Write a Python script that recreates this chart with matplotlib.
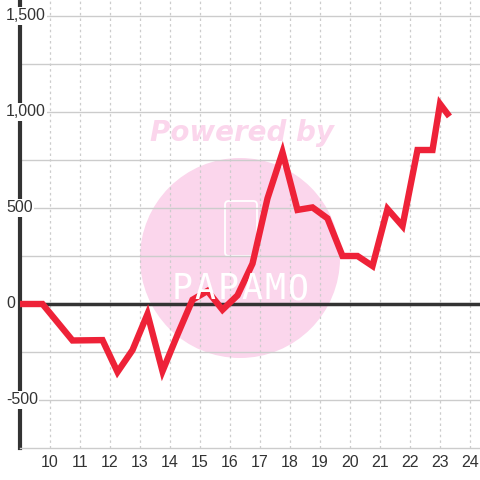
import numpy as np
import matplotlib.pyplot as plt
from matplotlib.patches import Circle, FancyBboxPatch
import matplotlib.transforms as mtransforms

plt.rcParams['font.family'] = ['Liberation Sans', 'DejaVu Sans']

# data
hours = [9.0, 9.75, 10.75, 11.75, 12.25, 12.75, 13.25, 13.75, 14.25, 14.75,
         15.25, 15.75, 16.25, 16.75, 17.25, 17.75, 18.25, 18.75, 19.25, 19.75,
         20.25, 20.75, 21.25, 21.75, 22.25, 22.75, 23.0, 23.25]
values = [0, 0, -190, -188, -354, -240, -52, -350, -160, 22,
          68, -30, 45, 210, 550, 790, 490, 503, 446, 250,
          250, 198, 495, 406, 802, 802, 1042, 990]
xticks = list(range(10, 25))
yticks = [-500, 0, 500, 1000, 1500]
ylabels = ['-500', '0', '500', '1,000', '1,500']

fig = plt.figure(figsize=(4.8, 4.8), dpi=100)
ax = fig.add_axes([20/480, 32/480, 460/480, 448/480])

ax.set_xlim(9.0, 9 + 460/30)
ax.set_ylim(-750, 1500 + 16/0.192)

# grid
ax.set_axisbelow(True)
for y in np.arange(-500, 1501, 250):
    ax.axhline(y, color='#cccccc', lw=1, zorder=0.5)
for x in xticks:
    ax.axvline(x, color='#cccccc', lw=0.9, ls=(0, (2, 2.5)), zorder=0.5)
ax.axhline(0, color='#333333', lw=2.5, zorder=1)

# watermark
ax.add_patch(Circle((0.5, 1 - 258/480), 100/480, transform=fig.transFigure,
                    facecolor='#fbd6ec', edgecolor='none', zorder=0.1))
ax.add_patch(FancyBboxPatch((225/480, 1 - 256/480), 32/480, 55/480,
                            boxstyle='round,pad=0,rounding_size=0.008',
                            transform=fig.transFigure, facecolor='none',
                            edgecolor='white', lw=1.3, zorder=0.2))
for i, ch in enumerate('PAPAMO'):
    fig.text((182 + 23.2*i)/480, 1 - 289/480, ch, color='white', fontsize=25,
             ha='center', va='center', family='DejaVu Sans Mono', zorder=0.2)
fig.text(0.505, 1 - 133/480, 'Powered by', color='#fbd6ec', fontsize=20,
         fontweight='heavy', fontstyle='italic', family='DejaVu Sans',
         ha='center', va='center', zorder=0.2)

ax.plot(hours, values, color='#ee2238', lw=4.6, solid_joinstyle='miter', zorder=3)

# axes styling
for s in ['top', 'right']:
    ax.spines[s].set_visible(False)
ax.spines['bottom'].set_color('#cccccc')
ax.spines['bottom'].set_linewidth(1)
ax.spines['left'].set_color('#333333')
ax.spines['left'].set_linewidth(3)
ax.set_xticks(xticks)
ax.tick_params(axis='x', length=0, pad=5, labelsize=11.5, labelcolor='#333333')
ax.set_yticks([])

trans = mtransforms.blended_transform_factory(fig.transFigure, ax.transData)
for y, lab in zip(yticks, ylabels):
    fig.text(6/480, y, lab, transform=trans, ha='left', va='center',
             fontsize=11.5, color='#333333', zorder=5,
             bbox=dict(facecolor='white', edgecolor='none', pad=1))

fig.savefig('out.png', dpi=100)
